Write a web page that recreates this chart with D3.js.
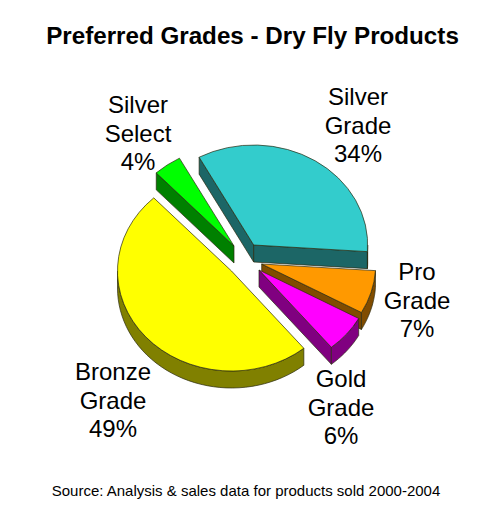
<!DOCTYPE html>
<html><head><meta charset="utf-8">
<script src="https://cdn.jsdelivr.net/npm/d3@7"></script>
<style>html,body{margin:0;padding:0;background:#fff}svg{display:block}
text{font-family:"Liberation Sans",Arial,sans-serif;fill:#000}</style></head>
<body><svg id="c" width="500" height="518"></svg>
<script>
const categories = ["Silver Grade","Pro Grade","Gold Grade","Bronze Grade","Silver Select"];
const values = [34,7,6,49,4];
const topColors = ["#33cccc","#ff9900","#ff00ff","#ffff00","#00ff00"];
const sideColors = ["#1c6666","#804c00","#800080","#808000","#008000"];
const centerX = [253.7,261.7,259,231.5,234];
const centerY = [245,264,270,271,246];
const labelX = [358,417,341,113,138];
const labelY = [105,280,387,380,113];
const title = "Preferred Grades - Dry Fly Products";
const source = "Source: Analysis & sales data for products sold 2000-2004";
const rx = 114, ry = 100, depth = 17, startDeg = -28.6, lineH = 28.7;

const svg = d3.select("#c");
svg.append("text").attr("x",252.5).attr("y",44).attr("text-anchor","middle")
  .attr("font-size",24.2).attr("font-weight","bold").text(title);

const start = startDeg*Math.PI/180;
const pie = d3.pie().sort(null).startAngle(start).endAngle(start+2*Math.PI);
const arcs = pie(values);
const arc = d3.arc().innerRadius(0).outerRadius(rx);
const stroke = "#2a2a10";
const pt = (a,i,dy=0)=>[centerX[i]+rx*Math.sin(a), centerY[i]-ry*Math.cos(a)+dy];
const line = d3.line();

arcs.forEach((d,i)=>{
  const g = svg.append("g");
  const apex=[centerX[i],centerY[i]];
  const wall = pts => g.append("path").attr("d",line(pts)+"Z")
      .attr("fill",sideColors[i]).attr("stroke",stroke).attr("stroke-width",0.7).attr("stroke-linejoin","round");
  const quad=(p,q)=>wall([p,q,[q[0],q[1]+depth],[p[0],p[1]+depth]]);
  const s=pt(d.startAngle,i), e=pt(d.endAngle,i);
  if(s[0]<apex[0]) quad(apex,s);
  if(e[0]>apex[0]) quad(apex,e);
  // outer wall: the part of the rim facing the viewer
  const a0=Math.max(d.startAngle,Math.PI/2), a1=Math.min(d.endAngle,3*Math.PI/2);
  if(a1>a0){
    const as=d3.range(0,41).map(k=>a0+(a1-a0)*k/40);
    wall(as.map(a=>pt(a,i)).concat(as.slice().reverse().map(a=>pt(a,i,depth))));
  }
  g.append("path").attr("d",arc(d))
   .attr("transform",`translate(${centerX[i]},${centerY[i]}) scale(1,${ry/rx})`)
   .attr("fill",topColors[i]).attr("stroke",stroke).attr("stroke-width",0.7)
   .attr("vector-effect","non-scaling-stroke").attr("stroke-linejoin","round");
});

categories.forEach((c,i)=>{
  const t = svg.append("text").attr("text-anchor","middle").attr("font-size",24).attr("fill","#111");
  c.split(" ").concat(values[i]+"%").forEach((l,k)=>
    t.append("tspan").attr("x",labelX[i]).attr("y",labelY[i]+k*lineH).text(l));
});
svg.append("text").attr("x",246).attr("y",496).attr("text-anchor","middle")
  .attr("font-size",15).text(source);
</script></body></html>
